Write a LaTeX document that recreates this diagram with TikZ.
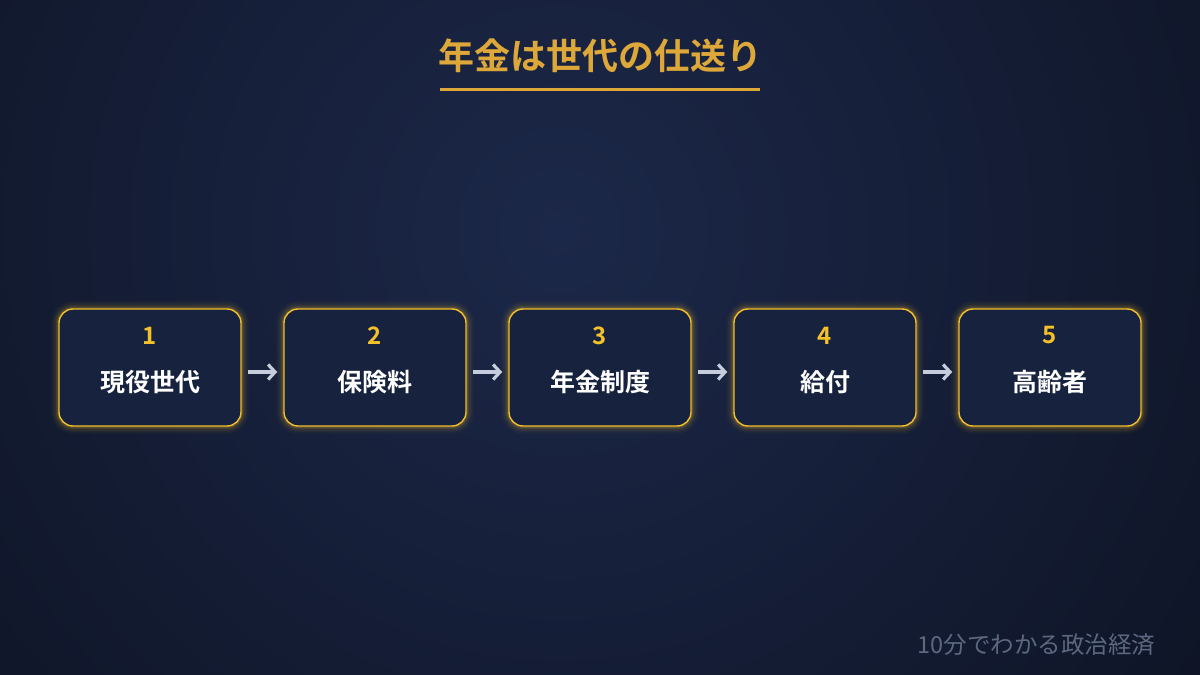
\documentclass[tikz,border=0pt]{standalone}
\usepackage{fontspec}
\setmainfont{Noto Sans CJK JP}
\newfontfamily\jpb{Noto Sans CJK JP Bold}
\usetikzlibrary{arrows.meta}
\definecolor{bgin}{HTML}{1C2849}
\definecolor{bgout}{HTML}{0E1425}
\definecolor{gold}{HTML}{DDA73A}
\definecolor{boxline}{HTML}{F2BE2C}
\definecolor{boxfill}{HTML}{17223F}
\definecolor{numcol}{HTML}{F5C12B}
\definecolor{arrowcol}{HTML}{C5CDDD}
\definecolor{footcol}{HTML}{5B6880}
\tikzset{
  stepbox/.style={draw=boxline, line width=1.4pt, fill=boxfill, rounded corners=14pt,
    minimum width=182pt, minimum height=117pt, inner sep=0pt},
  glowline/.style={draw=boxline, rounded corners=14pt},
  numtxt/.style={text=numcol, font=\jpb\fontsize{24pt}{26pt}\selectfont},
  labtxt/.style={text=white, font=\jpb\fontsize{25pt}{27pt}\selectfont},
  flowarrow/.style={draw=arrowcol, line width=3.2pt, -{Straight Barb[length=7pt,width=15pt,line width=3.2pt]}}
}
\begin{document}
\begin{tikzpicture}[x=1pt,y=-1pt]
\useasboundingbox (0,0) rectangle (1200,675);
\begin{scope}
\clip (0,0) rectangle (1200,675);
\fill[bgout] (0,0) rectangle (1200,675);
\shade[inner color=bgin, outer color=bgout] (560,230) circle[radius=820];
\end{scope}
% title
\node[text=gold, font=\jpb\fontsize{36pt}{38pt}\selectfont] (title) at (600,56) {年金は世代の仕送り};
\coordinate (ulL) at (440,89);
\coordinate (ulR) at (760,89);
\draw[gold, line width=3pt] (ulL) -- (ulR);
% boxes
\foreach \i/\lab in {1/現役世代,2/保険料,3/年金制度,4/給付,5/高齢者}{
  \pgfmathsetmacro{\cx}{150+225*(\i-1)}
  \foreach \w/\o in {16/0.03,12/0.05,9/0.06,6/0.09,3.5/0.14}{
    \draw[glowline, line width=\w pt, opacity=\o] (\cx-91,309) rectangle (\cx+91,426);
  }
  \node[stepbox] (b\i) at (\cx,367.5) {};
  \node[numtxt] (n\i) at (\cx,335.5) {\i};
  \node[labtxt] (l\i) at (\cx,382) {\lab};
}
% arrows
\foreach \i [evaluate=\i as \j using int(\i+1)] in {1,2,3,4}{
  \draw[flowarrow] ([xshift=6pt,yshift=-4.5pt]b\i.east) -- ([xshift=-6pt,yshift=-4.5pt]b\j.west);
}
% footer
\node[text=footcol, font=\fontsize{23.5pt}{25pt}\selectfont, anchor=east] (foot) at (1159,645) {10分でわかる政治経済};
\end{tikzpicture}
\end{document}
